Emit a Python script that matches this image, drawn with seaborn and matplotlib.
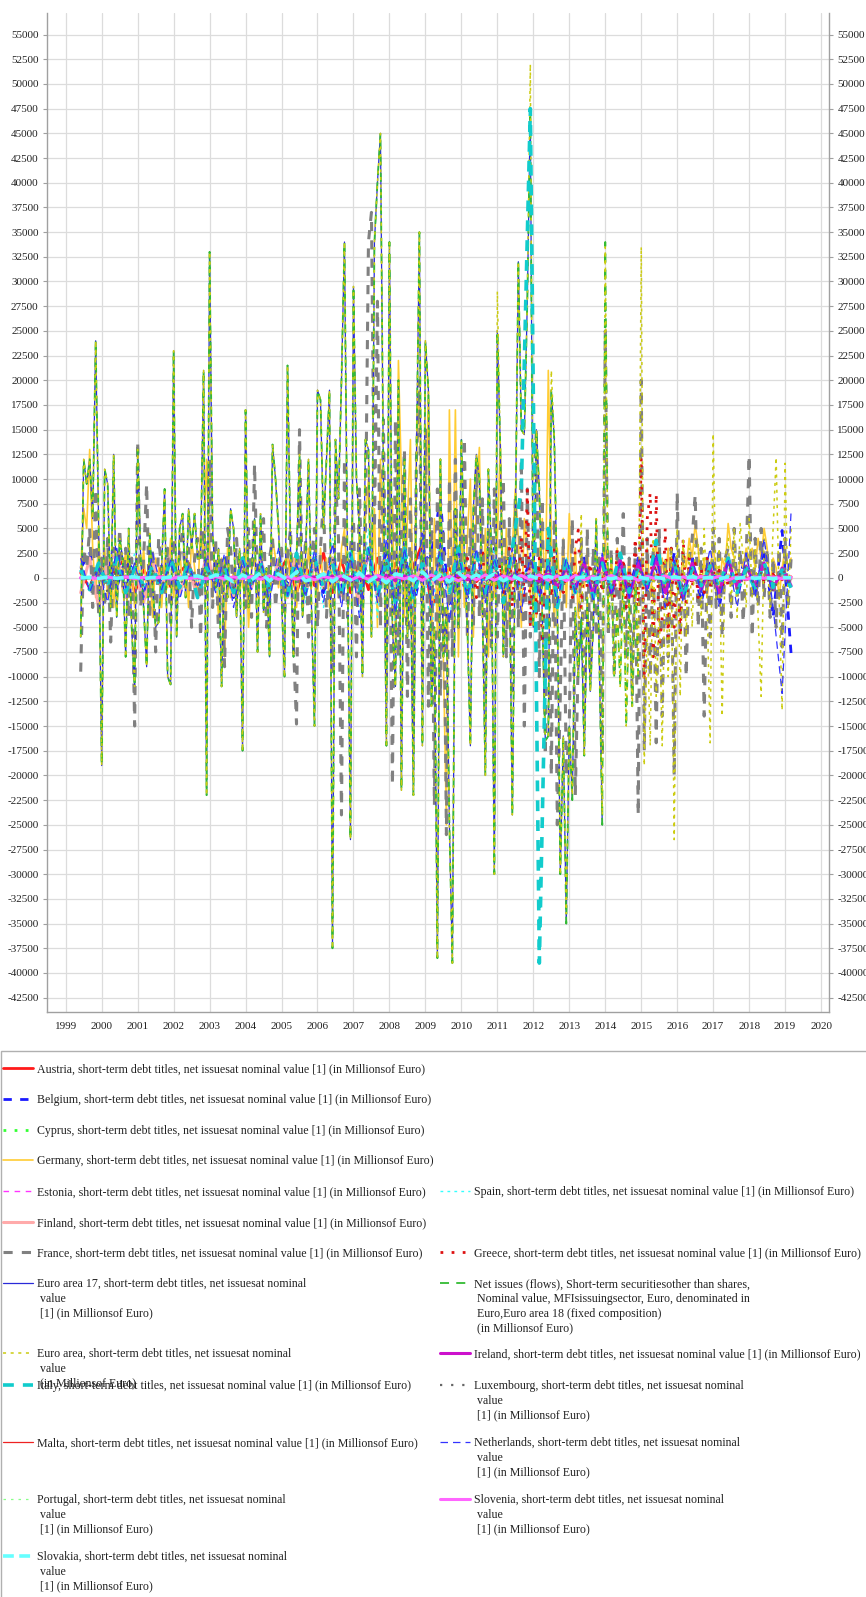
import numpy as np
import matplotlib
matplotlib.use("Agg")
import matplotlib.pyplot as plt
from matplotlib.patches import Rectangle
import seaborn as sns

# ---------------- data (millions of euro) ----------------
monthly_start = 1999 + 5 / 12      # June 1999, monthly series
quarterly_start = 1999 + 5 / 12    # quarterly readings for the small series
greece_start = 2010.0

years = list(range(1999, 2021))
y_ticks = list(range(-42500, 55001, 2500))

ea17_values = [
    -6000, 12000, 9500, 12000, 6000, 24000, 5000,
    -19000, 11000, 9500, -3000, 12500, -4000, 4000, 2000, -8000, 5000, -5000, -11000,
    13000, 2000, -3000, -9000, 4500, -1000, -5000, -4500, 1000, 9000, -10000, -10800,
    23000, -6000, 5000, 6500, -2000, 7000, 3000, 6500, 2000, 2000, 21000, -22000,
    33000, 5000, -1000, 3000, -11000, 2000, -2000, 7000, 5000, -4000, 3000, -17500,
    17000, -3000, 500, 6000, -7500, 6500, -3500, 1000, -8000, 13500, 10000, 5000,
    -2000, -10000, 21500, 3000, -8000, 2000, 12500, -4000, 2000, 12000, -3000, -15000,
    19000, 18000, 5000, 12000, 19000, -37500, 14000, 8000, 20000, 34000, 2000, -26500,
    29500, 10000, 5000, -10000, 14000, 13000, -6000, 34000, 40000, 45000, 10000, -17000,
    34000, -5000, -11000, 20000, -21500, 12000, -6000, 2000, -22000, 12000, 35000, -17000,
    24000, 19000, -13000, -5000, -38500, 12000, -8000, -3000, -25000, -39000, 7000, -5000,
    14000, 2000, -5000, -17000, 7000, 12500, 10000, -3000, -20000, 11000, 3000, -30000,
    25000, 13000, -8000, 2000, 2000, -24000, 5000, 32000, 15000, 14500, 28000, 47500,
    -5000, 15000, 9000, -4000, -16500, -16000, 19000, 14000, -2000, -30000, -16000, -35000,
    -15000, -22500, -3000, -10000, -4000, -18000, -2000, -11500, -5000, 6000, -8000, -25000,
]

net_issues_2014 = [34000, -5000, 2000, -10000, -3000, -11000, 1000, -15000, -2000, -13000, 1000, -10000]

euro_area_2011_2019 = [
    29000, 13000, -8000, 2000, 2000, -24000, 5000, 32000, 15000, 14500, 28000, 52000,
    -5000, 15000, 9000, -4000, -16500, -16000, 21000, 14000, -2000, -30000, -16000, -34000,
    -15000, -22000, -3000, -10000, 6500, -18000, -2000, -11500, -5000, 6000, -8000, -24000,
    33500, -5000, 2000, -10000, -3000, -11000, 1000, -15000, -2000, -13000, 1000, -10000,
    33500, -19000, -5000, -17000, 4000, -12000, -3000, -17000, 2000, -10000, 3000, -26500,
    5000, -12000, 4000, -6000, 3000, -5000, 4000, 3500, -4000, 5000, -3000, -16700,
    14600, -2000, 3000, -14000, 2000, 4000, -3000, 5000, -4000, 5500, 2000, -3000,
    6000, -2000, 3000, -4000, -12000, 4000, 2000, -3000, 5000, 12200, -2000, -13400,
    11600, -3000, 5000,
]

france_values = [
    -9500, 3000, 1000, 5000, -3000, 9000, -4000,
    2000, -3000, 4000, -6500, 3000, -2000, 5000, -1000, 3000, -4000, 2000, -15000,
    13800, -3000, 2000, 9500, -4000, 3000, -7500, 4000, 1000, -2000, 3000, -5000,
    4000, -3000, 2000, 5000, -1000, 3000, -5000, 2000, 4000, -6000, 5000, -2000,
    12000, -3000, 4000, -6000, 2000, -9000, 5000, 3000, -2000, 4000, -1000, 2000,
    -3000, 5000, -4000, 11500, -2000, 3000, 6000, -5000, 2000, 4000, -3000, 1000,
    3000, -4000, 2000, 5000, -7000, -14800, 15000, -3000, 4000, -6000, 2000, 5000,
    -5000, 3000, 8000, -4000, 2000, -9500, 10000, 4000, -24000, 12000, -4000, 3000,
    6000, -8000, 9000, -3000, 5000, 34000, 37000, 5000, 28000, -5000, 16000, -10000,
    10000, -21000, 16000, -8000, 5000, 13000, -12000, 8000, -15000, 12000, 20000, -10000,
    15000, -13000, 6000, -23000, 9000, -12000, 5000, -26000, 10000, -8000, 12000, -5000,
    3000, 14100, -6000, 5000, -5000, 11900, -4000, 8000, -12000, 5000, -7000, 9000,
    -6000, 5000, 10000, -8000, 6000, -12000, 8000, -5000, 12000, -15000, 9000, -6000,
    6000, 15000, -10000, 8000, -18000, 5000, -20000, 6000, -25000, -12000, 4000, -20000,
    -15000, 6000, -22000, -8000, 4000, -14000, 5000, -9000, 3000, -6000, 2000, -18000,
    25000, -6000, 3000, -10000, 4000, -5000, 6500, -8000, 2000, -12000, 3000, -24000,
    20000, -17500, 4000, -10000, 3000, -16700, 5000, -14000, 2000, -8000, 3000, -20000,
    8600, -6000, 3000, -10000, 2000, 4000, 8400, -5000, 3000, -14000, 2000, -6000,
    5000, -3000, 4000, -6000, 2000, 3000, -4000, 5000, -2000, 3000, -4500, 2000,
    12400, -6000, 4000, -3000, 5000, -2000, 3000, -4000, 2000, -5000, 3000, -7000,
    4000, -3000, 2000,
]

germany_values = [
    1000, 7000, 5000, 13000, 3000, -2000, 4000,
    -1000, 3000, -2000, 2000, -3000, 1000, 2000, -1500, 3000, -2000, 1000, -3000,
    2000, -1000, 3000, -2000, 1000, -4000, 2000, 1000, -3000, 2000, -1000, 4000,
    -2000, 1000, 3000, -1000, 2000, -3000, 4000, 1000, -2000, 5000, 2000, 12000,
    3000, -2000, 1000, -4000, 2000, -8000, 3000, -2000, 1000, -3000, 2000, -1000,
    3000, -5000, 1000, 2000, -2000, 3000, -1000, 1000, -3000, 4000, 2000, -1000,
    1000, -2000, 3000, -1000, 2000, -3000, 1000, 2000, -1500, 3000, -1000, 2000,
    -2000, 3000, -1000, 2000, -3000, 1000, 2000, -2000, 3000, 5000, -1000, 2000,
    3000, -2000, 5000, -4000, 6000, 10000, -3000, 7000, -5000, 12000, 2000, -6000,
    4000, 8000, -7000, 22000, 10000, -4000, 6000, 14000, -8000, 12000, 19000, -3000,
    5000, 18900, -10000, 6000, -6000, 12000, -8000, -25000, 17000, -5000, 17000, -8000,
    6000, -3000, 4000, 10000, -6000, 8000, 13200, -4000, 5000, -8000, 3000, -2000,
    4000, 13500, -3000, 5000, -5000, 3000, 9000, 4000, -5000, 6000, 3000, -2000,
    3000, -4000, 2000, 6000, -3000, 21000, 4000, -5000, 3000, -2000, 4000, -3000,
    6500, -2000, 3000, -4000, 2000, -1000, 3000, -2000, 1000, -1500, 2000, -1000,
    4000, -2000, 2000, -1000, 3000, -2000, 1000, -1000, 2000, -1500, 1000, -500,
    2000, -1000, 3000, -2000, 1000, 4000, -1500, 2000, -1000, 3000, -2000, 1000,
    2000, -1500, 3000, 1000, 4000, 2000, 5500, 3000, -1000, 2000, -2000, 1000,
    3000, 1000, -2000, 2000, 1000, 5500, 3000, 2000, -1000, 2000, 1000, 3000,
    2000, 3000, 1000, 4000, 2000, 5000, 3000, -1000, 2000, 1000, -2000, 1000,
    3000, 1000, 2000,
]

greece_values = [
    500, -1000, 2000, -500, 1500, -2000, 1000, 3000, -1500, 500, -1000, 2000,
    -1000, 1500, -2000, 1000, 3000, -3000, 2000, -1000, 4000, -2000, 8900, -5000,
    3000, -4000, 2000, -6600, 1000, 4000, -2000, 3000, -3000, 1000, -1500, 500,
    1000, -2000, 3000, 4850, -3000, 2000, -1000, 1500, -2000, 1000, 500, -1500,
    2000, -1000, 1000, -2000, 3000, -1500, 2000, -3000, 1000, -2000, 4000, -3000,
    12200, -10400, 6000, 8600, -8000, 8500, -7000, -4000, 5000, -6000, 3000, -5000,
    2000, -6000, 4000, -3000, 2000, -1000, 1500, -2000, 1000, -1500, 2000, -1000,
    1000, -500, 800, -1000, 500, -800, 1000, -500, 600, -700, 400, -300,
    300, -500, 400, -600, 500, -400, 300, -200, 400, -500, 300, -200,
    200, -300, 100,
]

austria_values = [
    500, -1000, 1500, -500, 1000, 2000, -1500, 800, -600, 1200,
    -900, 600, 1500, -1200, 700, -400, 900, -700, 1100, -500,
    1400, -1000, 600, 2000, -1500, 1200, -800, 2500, -1500, 1800,
    -1500, 1800, -1200, 2000, -1000, 1500, -800, 1200, 3500, -3000,
    -700, 1000, -500, 800, -400, 600, -500, 700, -300, 400,
    -600, 500, -400, 300, -200, 500, -300, 200, -400, 300,
    -200, 400, -300, 200, -100, 300, -200, 100, -300, 200,
    -100, 200, -150, 100, -200, 150, -100, 200, -100, 100,
]
belgium_values = [
    1000, 2500, -500, 1500, -1000, 2000, 500, -1500, 1000, -500,
    1500, -1000, 800, -600, 1200, -800, 1000, -2000, 1500, -500,
    800, -1200, 1000, -600, 1500, -800, 1200, -1500, 2000, -1000,
    1500, -2000, 2500, -1500, 3000, -2000, 2000, -3000, 1500, 2500,
    8000, -4000, 3000, -2000, 2500, -1500, 3000, -2000, 1500, -1000,
    2000, -1500, 1000, -2000, 1500, -1000, 2000, -1500, 1000, -2000,
    1500, -1000, 2000, -1500, 1000, -2000, 2500, -1500, 2000, -2500,
    1500, -3000, 2000, -1000, 2500, -2000, 3000, -4000, 4800, -7700,
]
cyprus_values = [
    0, 100, -200, 150, -100, 200, -150, 100, -200, 300,
    -100, 200, -300, 150, -200, 100, -150, 250, -100, 200,
    -250, 300, -200, 150, -300, 400, -250, 300, -400, 500,
    -300, 400, -500, 300, -400, 600, -500, 400, -300, 500,
    -600, 700, -500, 400, -300, 500, -400, 300, -500, 600,
    -400, 800, -600, 500, -400, 300, -500, 400, -300, 200,
    -400, 300, -200, 400, -300, 200, -100, 300, -200, 100,
    -300, 200, -100, 200, -150, 100, -200, 150, -100, 100,
]
estonia_values = [
    0, 50, -50, 100, -80, 60, -40, 80, -60, 50,
    -30, 70, -50, 40, -60, 80, -70, 50, -40, 60,
    -50, 90, -70, 60, -50, 100, -80, 70, -60, 50,
    -40, 60, -50, 40, -30, 50, -40, 30, -20, 40,
    -30, 50, -40, 30, -20, 40, -30, 20, -10, 30,
    -20, 40, -30, 20, -10, 30, -20, 10, -20, 30,
    -10, 20, -30, 10, -20, 30, -10, 20, -10, 10,
    -20, 10, -10, 20, -10, 10, -20, 10, -10, 0,
]
spain_values = [
    1500, -1000, 2000, -800, 1200, -1500, 2500, -1000, 800, -1200,
    1500, -2000, 1000, -500, 2000, -1500, 1200, -1000, 1800, -800,
    2500, -2000, 3000, -1500, 2000, -2500, 3500, -3000, 4000, -2000,
    3000, -3500, 5000, -4000, 6000, -5000, 4500, -3500, 3000, -6000,
    5500, -4500, 3500, -3000, 2500, -2000, 3000, -2500, 2000, -1500,
    2500, -2000, 1500, -1000, 2000, -1500, 1000, -1200, 1500, -1000,
    1200, -800, 1000, -1500, 1200, -1000, 800, -1200, 1500, -1000,
    1000, -800, 1200, -1000, 800, -600, 1000, -1200, 800, -500,
]
finland_values = [
    -1500, 2000, -3000, 1500, 2500, -2000, 1000, -2500, 1800, -1200,
    2200, -1500, 1000, -2000, 2500, -1000, 1500, -1800, 1200, -1000,
    2000, -1500, 1800, -2000, 2500, -1500, 1200, -1000, 2000, -1800,
    1500, -2500, 2800, -2000, 1500, -1200, 1000, -1500, 2000, -1000,
    1200, -800, 1500, -1000, 800, -1200, 1000, -800, 600, -500,
    800, -600, 500, -400, 600, -300, 400, -500, 300, -200,
    400, -300, 200, -400, 300, -200, 100, -300, 200, -100,
    200, -100, 300, -200, 100, -100, 200, -100, 100, -100,
]
ireland_values = [
    0, 0, 100, -100, 0, 100, 0, -100, 0, 100,
    -100, 0, 100, 0, -100, 0, 100, -100, 0, 100,
    0, -100, 100, 0, -100, 0, 100, -100, 200, -200,
    100, -100, 200, -200, 300, -300, 200, -200, 100, -100,
    200, -300, 300, -200, 100, -200, 300, -100, 200, -300,
    400, -500, 600, -800, 1000, -1200, 1500, -1800, 2000, -1500,
    1800, -2000, 1500, -1000, 2000, -1500, 1200, -1800, 1500, -1200,
    1000, -1500, 1800, -1000, 1200, -800, 1500, -1200, 1000, -800,
]
italy_values = [
    800, -1200, 1500, -1000, 2000, -1500, 1000, -800, 1200, -1500,
    2000, -1000, 1500, -2000, 1000, -500, 1200, -1500, 2000, -1000,
    1500, -1200, 1000, -1800, 2500, -1500, 2000, -1000, 1500, -2000,
    2500, -1500, 3000, -2000, 2000, -2500, 3000, -2000, 1500, -1000,
    2000, -1500, 3000, -2000, 2500, -1500, 2000, -2500, 3000, 9000,
    47500, -39000, 5000, -3000, 2000, -1500, 1000, -2000, 1500, -1000,
    2500, -1500, 1000, -1200, 3800, -1000, 1500, -2000, 1000, -800,
    1200, -1000, 2000, -1500, 1000, -1200, 1500, -1000, 800, -1000,
]
luxembourg_values = [
    1000, -800, 1200, -1500, 800, -600, 1500, -1000, 700, -900,
    1200, -800, 1000, -1200, 900, -700, 1100, -1000, 1300, -900,
    1500, -1200, 1000, -800, 1400, -1600, 1800, -1200, 2000, -1500,
    1700, -2000, 2200, -1800, 1500, -2500, 2000, -1500, 1800, -1200,
    1500, -1000, 1200, -1400, 1000, -800, 1300, -1100, 900, -1200,
    1500, -1000, 1200, -900, 1100, -1300, 1500, -1000, 800, -1200,
    1400, -1000, 1200, -800, 1000, -1200, 1500, -1000, 1300, -900,
    1100, -1300, 1600, -1100, 1400, -1000, 1200, -1500, 1000, -800,
]
malta_values = [
    0, 30, -20, 40, -30, 20, -10, 30, -40, 20,
    -20, 30, -10, 20, -30, 40, -20, 10, -30, 20,
    -40, 50, -30, 20, -20, 40, -50, 30, -20, 50,
    -60, 40, -30, 50, -40, 30, -20, 40, -50, 30,
    -30, 40, -20, 30, -40, 20, -30, 40, -20, 10,
    -20, 30, -10, 20, -30, 10, -20, 30, -10, 20,
    -10, 20, -30, 10, -20, 30, -10, 20, -10, 10,
    -20, 10, -10, 20, -10, 10, -20, 10, -10, 0,
]
netherlands_values = [
    2000, -1500, 1000, -2500, 3000, -1000, 1500, -2000, 2500, -1200,
    1800, -2200, 1200, -800, 2000, -1500, 2500, -3000, 1800, -1200,
    2200, -2500, 3000, -1800, 1500, -2000, 2800, -2500, 3500, -3000,
    2500, -4000, 3000, -2500, 4000, -3500, 3000, -2000, 4500, -3000,
    3500, -4500, 2500, -2000, 3000, -2500, 2000, -1500, 3000, -3500,
    2500, -2000, 1500, -2500, 2000, -1500, 1800, -2200, 2500, -1800,
    1500, -2000, 2200, -1500, 2500, -3000, 1800, -2500, 2000, -1500,
    3000, -2500, 2000, -3000, 2500, -2000, 4000, -3000, -11700, 6800,
]
portugal_values = [
    300, -200, 400, -300, 200, -400, 500, -300, 200, -100,
    300, -400, 200, -300, 400, -200, 300, -500, 400, -300,
    500, -400, 300, -600, 500, -400, 700, -500, 600, -800,
    700, -600, 900, -700, 600, -900, 800, -600, 1000, -800,
    700, -1000, 900, -700, 600, -800, 700, -500, 600, -400,
    500, -700, 600, -500, 400, -600, 500, -300, 400, -500,
    300, -400, 500, -300, 200, -400, 300, -200, 400, -300,
    200, -300, 400, -200, 300, -100, 200, -300, 100, -200,
]
slovenia_values = [
    0, 50, -100, 80, -60, 100, -80, 60, -50, 80,
    -100, 120, -80, 60, -100, 150, -120, 100, -80, 120,
    -150, 200, -150, 100, -120, 180, -200, 150, -100, 200,
    -250, 200, -150, 250, -200, 150, -100, 200, -250, 300,
    -200, 150, -300, 250, -200, 300, -250, 200, -150, 250,
    -200, 300, -250, 200, -300, 250, -200, 150, -200, 250,
    -150, 200, -250, 150, -100, 200, -150, 100, -200, 150,
    -100, 150, -200, 100, -150, 100, -50, 100, -100, 50,
]
slovakia_values = [
    0, 50, -50, 100, -50, 50, 100, -100, 50, -50,
    100, -50, 100, 200, -100, 300, 150, -400, 300, -200,
    500, -300, 400, -200, 600, -300, -100, 400, -400, 300,
    -200, 500, -400, 200, -500, 400, 200, -300, 600, -300,
    300, -400, 500, -200, 300, -100, 400, -300, 200, -200,
    200, -100, 150, -100, 100, -50, 100, -100, 50, -100,
    100, -50, 100, -100, 50, -100, 100, -50, 100, -50,
    50, -100, 100, -50, 100, -50, 50, -100, 50, 0,
]

net_issues_values = ea17_values + net_issues_2014
euro_area_values = ea17_values[:139] + euro_area_2011_2019

L1 = " short-term debt titles, net issuesat nominal value [1] (in Millionsof Euro)"
series = [
    # name, values, start, step, color, linestyle, lw, legend lines, column, row y(px)
    ("Austria", austria_values, quarterly_start, 0.25, "#ff1a1a", "-", 2.0,
     ["Austria," + L1], 0, 1069),
    ("Belgium", belgium_values, quarterly_start, 0.25, "#1a1aff", (0, (3, 3)), 2.0,
     ["Belgium," + L1], 0, 1100),
    ("Cyprus", cyprus_values, quarterly_start, 0.25, "#33ff33", (0, (1, 3)), 2.0,
     ["Cyprus," + L1], 0, 1131),
    ("Germany", germany_values, monthly_start, 1 / 12, "#ffcc33", "-", 1.2,
     ["Germany," + L1], 0, 1161),
    ("Estonia", estonia_values, quarterly_start, 0.25, "#ff33ff", (0, (4, 4)), 1.0,
     ["Estonia," + L1], 0, 1192),
    ("Spain", spain_values, quarterly_start, 0.25, "#33ffff", (0, (2, 3)), 1.0,
     ["Spain," + L1], 1, 1192),
    ("Finland", finland_values, quarterly_start, 0.25, "#ffaaaa", "-", 2.2,
     ["Finland," + L1], 0, 1223),
    ("France", france_values, monthly_start, 1 / 12, "#808080", (0, (3, 3)), 2.2,
     ["France," + L1], 0, 1253),
    ("Greece", greece_values, greece_start, 1 / 12, "#dd1111", (0, (1, 3)), 2.0,
     ["Greece," + L1], 1, 1253),
    ("Euro area 17", ea17_values, monthly_start, 1 / 12, "#2a2ad8", "-", 0.9,
     ["Euro area 17, short-term debt titles, net issuesat nominal", "value",
      "[1] (in Millionsof Euro)"], 0, 1284),
    ("Net issues", net_issues_values, monthly_start, 1 / 12, "#33bb33", (0, (5, 4)), 1.3,
     ["Net issues (flows), Short-term securitiesother than shares,",
      "Nominal value, MFIsissuingsector, Euro, denominated in",
      "Euro,Euro area 18 (fixed composition)", "(in Millionsof Euro)"], 1, 1284),
    ("Euro area", euro_area_values, monthly_start, 1 / 12, "#cccc11", (0, (2, 3)), 1.1,
     ["Euro area, short-term debt titles, net issuesat nominal", "value",
      "(in Millionsof Euro)"], 0, 1354),
    ("Ireland", ireland_values, quarterly_start, 0.25, "#cc11cc", "-", 2.2,
     ["Ireland," + L1], 1, 1354),
    ("Italy", italy_values, quarterly_start, 0.25, "#11cccc", (0, (3, 2.5)), 2.6,
     ["Italy," + L1], 0, 1386),
    ("Luxembourg", luxembourg_values, quarterly_start, 0.25, "#666666", (0, (1, 4)), 1.6,
     ["Luxembourg, short-term debt titles, net issuesat nominal", "value",
      "[1] (in Millionsof Euro)"], 1, 1386),
    ("Malta", malta_values, quarterly_start, 0.25, "#ee2222", "-", 0.9,
     ["Malta," + L1], 0, 1443),
    ("Netherlands", netherlands_values, quarterly_start, 0.25, "#3333ff", (0, (6, 4)), 0.9,
     ["Netherlands, short-term debt titles, net issuesat nominal", "value",
      "[1] (in Millionsof Euro)"], 1, 1443),
    ("Portugal", portugal_values, quarterly_start, 0.25, "#88ff88", (0, (2, 4)), 0.9,
     ["Portugal, short-term debt titles, net issuesat nominal", "value",
      "[1] (in Millionsof Euro)"], 0, 1500),
    ("Slovenia", slovenia_values, quarterly_start, 0.25, "#ff66ff", "-", 2.2,
     ["Slovenia, short-term debt titles, net issuesat nominal", "value",
      "[1] (in Millionsof Euro)"], 1, 1500),
    ("Slovakia", slovakia_values, quarterly_start, 0.25, "#66ffff", (0, (3, 1.5)), 2.6,
     ["Slovakia, short-term debt titles, net issuesat nominal", "value",
      "[1] (in Millionsof Euro)"], 0, 1557),
]

# ---------------- figure ----------------
sns.set_style("white")
plt.rcParams["font.family"] = ["Liberation Serif", "DejaVu Serif"]

W, H = 866, 1597
fig = plt.figure(figsize=(W / 100, H / 100), dpi=100)
ax = fig.add_axes([47 / W, 1 - 1012 / H, (829 - 47) / W, (1012 - 13) / H])

handles = []
for name, vals, start, step, color, ls, lw, *_ in series:
    t = start + np.arange(len(vals)) * step
    sns.lineplot(x=t, y=np.asarray(vals, dtype=float), ax=ax, color=color,
                 linestyle=ls, linewidth=lw, legend=False, sort=False)
    handles.append(ax.lines[-1])

ax.set_xlim(1998.48, 2020.22)
ax.set_ylim(-43950, 57180)
ax.set_xticks(years)
ax.set_xticklabels([str(y) for y in years])
ax.set_yticks(y_ticks)
ax.set_yticklabels([str(v) for v in y_ticks])
ax.set_xlabel("")
ax.set_ylabel("")
ax.grid(True, color="#dcdcdc", linewidth=0.9)
ax.set_axisbelow(True)
for s in ("left", "right", "bottom"):
    ax.spines[s].set_color("#a0a0a0")
    ax.spines[s].set_linewidth(1.0)
ax.spines["top"].set_visible(False)
ax.tick_params(axis="y", which="both", left=True, right=True, labelleft=True,
               labelright=True, length=3, width=0.8, color="#a0a0a0",
               labelsize=8, labelcolor="#222222", pad=3)
ax.tick_params(axis="x", length=3, width=0.8, color="#a0a0a0", labelsize=8,
               labelcolor="#222222", pad=4)

# legend frame
fig.patches.append(Rectangle((1 / W, -0.01), 1.0, (H - 1051) / H + 0.01,
                             transform=fig.transFigure, fill=False,
                             edgecolor="#b0b0b0", linewidth=1.0))

fs = 8.6
for h, (name, vals, start, step, color, ls, lw, lines, col, ypx) in zip(handles, series):
    xh = 3 if col == 0 else 440
    fig.legend(handles=[h], labels=[lines[0]], loc="center left",
               bbox_to_anchor=(xh / W, 1 - ypx / H), frameon=False,
               borderpad=0, borderaxespad=0, handlelength=2.5,
               handletextpad=0.33, prop={"family": "Liberation Serif", "size": fs},
               labelcolor="#222222")
    for k, extra in enumerate(lines[1:]):
        fig.text((xh + 37) / W, 1 - (ypx + 14.8 * (k + 1)) / H, extra,
                 ha="left", va="center", fontsize=fs, color="#222222",
                 family="Liberation Serif")

fig.savefig("out.png", dpi=100)
